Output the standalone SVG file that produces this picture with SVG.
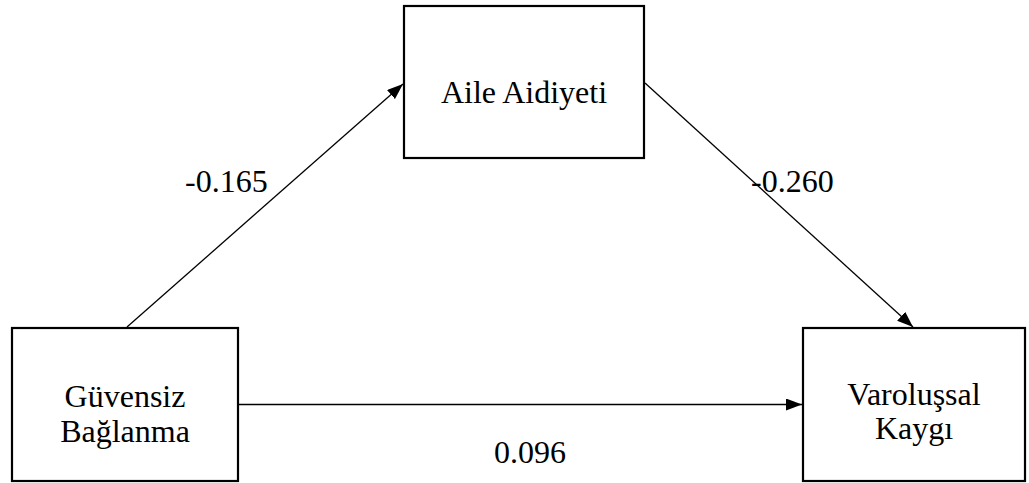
<svg xmlns="http://www.w3.org/2000/svg" width="1029" height="483" viewBox="0 0 1029 483">
  <style>
    .box { fill: #ffffff; stroke: #000000; stroke-width: 2.2; }
    .edge { fill: none; stroke: #000000; stroke-width: 1.3; }
    .label { font-family: "Liberation Serif", "Times New Roman", serif; font-size: 32px; fill: #000000; }
    .mid { text-anchor: middle; }
  </style>
  <defs>
    <marker id="arrow" viewBox="0 0 16 12" refX="16" refY="6" markerWidth="16" markerHeight="12" markerUnits="userSpaceOnUse" orient="auto">
      <path d="M0,0 L16,6 L0,12 Z" fill="#000000"/>
    </marker>
  </defs>
  <rect width="1029" height="483" fill="#ffffff"/>

  <g id="connectors">
    <line class="edge" x1="127" y1="327" x2="403" y2="84" marker-end="url(#arrow)"/>
    <line class="edge" x1="645" y1="83" x2="913" y2="327" marker-end="url(#arrow)"/>
    <line class="edge" x1="238" y1="404.5" x2="802" y2="404.5" marker-end="url(#arrow)"/>
    <text class="label" x="185" y="192">-0.165</text>
    <text class="label" x="751" y="192">-0.260</text>
    <text class="label" x="494" y="463">0.096</text>
  </g>

  <g id="aile-aidiyeti">
    <rect class="box" x="404" y="6" width="240" height="152"/>
    <text class="label mid" x="524" y="103">Aile Aidiyeti</text>
  </g>

  <g id="guvensiz-baglanma">
    <rect class="box" x="12" y="328" width="226" height="153"/>
    <text class="label mid" x="125" y="407">Güvensiz</text>
    <text class="label mid" x="125" y="442">Bağlanma</text>
  </g>

  <g id="varolussal-kaygi">
    <rect class="box" x="803" y="328" width="222" height="153"/>
    <text class="label mid" x="914" y="405">Varoluşsal</text>
    <text class="label mid" x="914" y="439">Kaygı</text>
  </g>
</svg>
